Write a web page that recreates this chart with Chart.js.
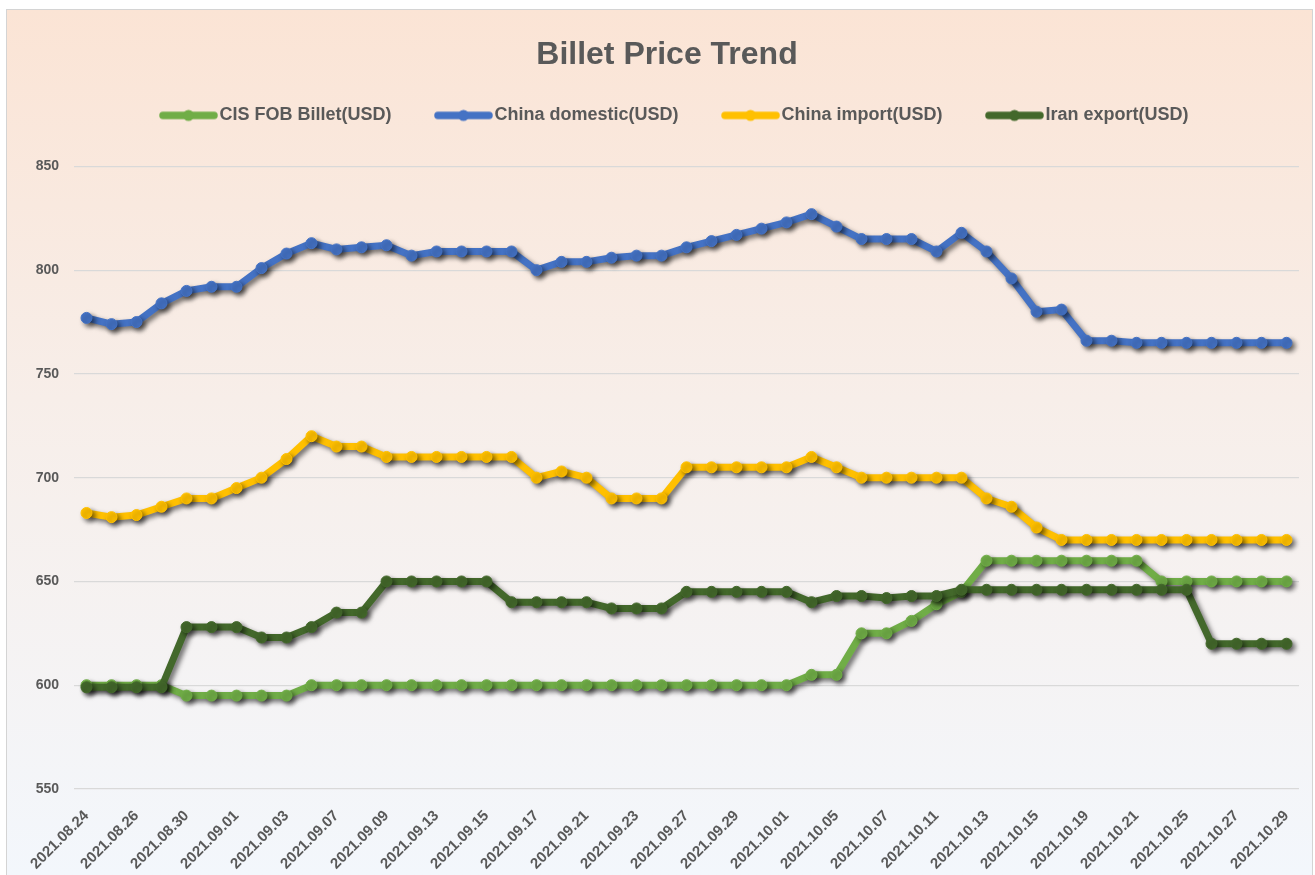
<!DOCTYPE html>
<html>
<head>
<meta charset="utf-8">
<script src="https://cdn.jsdelivr.net/npm/chart.js@4.4.1/dist/chart.umd.min.js"></script>
<style>
  html, body { margin: 0; padding: 0; background: #fff; }
  #frame {
    position: absolute; left: 6px; top: 9px; width: 1307px; height: 866px;
    box-sizing: border-box; border: 1px solid #d4d4d4; border-bottom: none;
    background: linear-gradient(#fbe4d5 0%, #f7eee9 45%, #f3f7fc 100%);
  }
  #wrap { position: absolute; left: 0; top: 0; width: 1305px; height: 865px; }
</style>
</head>
<body>
<div id="frame"><div id="wrap"><canvas id="grafico"></canvas></div></div>
<script>
const dates = ['2021.08.24','2021.08.25','2021.08.26','2021.08.27','2021.08.30','2021.08.31',
  '2021.09.01','2021.09.02','2021.09.03','2021.09.06','2021.09.07','2021.09.08','2021.09.09','2021.09.10',
  '2021.09.13','2021.09.14','2021.09.15','2021.09.16','2021.09.17','2021.09.20','2021.09.21','2021.09.22',
  '2021.09.23','2021.09.24','2021.09.27','2021.09.28','2021.09.29','2021.09.30',
  '2021.10.01','2021.10.04','2021.10.05','2021.10.06','2021.10.07','2021.10.08','2021.10.11','2021.10.12',
  '2021.10.13','2021.10.14','2021.10.15','2021.10.18','2021.10.19','2021.10.20','2021.10.21','2021.10.22',
  '2021.10.25','2021.10.26','2021.10.27','2021.10.28','2021.10.29'];

const cisFob = [600,600,600,600,595,595,595,595,595,600,600,600,600,600,600,600,600,600,600,600,
  600,600,600,600,600,600,600,600,600,605,605,625,625,631,639,645,660,660,660,660,
  660,660,660,650,650,650,650,650,650];

const chinaDomestic = [777,774,775,784,790,792,792,801,808,813,810,811,812,807,809,809,809,809,800,804,
  804,806,807,807,811,814,817,820,823,827,821,815,815,815,809,818,809,796,780,781,
  766,766,765,765,765,765,765,765,765];

const chinaImport = [683,681,682,686,690,690,695,700,709,720,715,715,710,710,710,710,710,710,700,703,
  700,690,690,690,705,705,705,705,705,710,705,700,700,700,700,700,690,686,676,670,
  670,670,670,670,670,670,670,670,670];

const iranExport = [599,599,599,599,628,628,628,623,623,628,635,635,650,650,650,650,650,640,640,640,
  640,637,637,637,645,645,645,645,645,640,643,643,642,643,643,646,646,646,646,646,
  646,646,646,646,646,620,620,620,620];

const yTicks = [550, 600, 650, 700, 750, 800, 850];

const corTexto = '#595959';
const fonte = "'Liberation Sans', Arial, sans-serif";

// marcador da legenda: linha grossa com bolinha no meio
// (imagem de 96px centrada na caixa de 65px, o marcador fica colado no texto)
function marcador(cor) {
  const c = document.createElement('canvas');
  c.width = 96; c.height = 16;
  const g = c.getContext('2d');
  g.strokeStyle = cor; g.lineWidth = 7.5; g.lineCap = 'round';
  g.beginPath(); g.moveTo(33, 8); g.lineTo(84, 8); g.stroke();
  g.fillStyle = cor;
  g.beginPath(); g.arc(58.5, 8, 5.5, 0, Math.PI * 2); g.fill();
  return c;
}

const sombra = {
  id: 'sombra',
  beforeDatasetDraw(chart) {
    const c = chart.ctx;
    c.save();
    c.shadowColor = 'rgba(0,0,0,0.55)';
    c.shadowBlur = 5;
    c.shadowOffsetX = 3;
    c.shadowOffsetY = 3;
  },
  afterDatasetDraw(chart) { chart.ctx.restore(); }
};

const espacoLegenda = {
  id: 'espacoLegenda',
  beforeInit(chart) {
    const fit = chart.legend.fit;
    chart.legend.fit = function () {
      fit.call(this);
      this.height += 32;
    };
  }
};

function serie(label, data, cor, ordem) {
  return {
    label, data,
    borderColor: cor, backgroundColor: cor,
    pointBackgroundColor: cor, pointBorderColor: cor,
    borderWidth: 7, pointRadius: 5.5, pointBorderWidth: 1,
    tension: 0, order: ordem
  };
}

new Chart(document.getElementById('grafico'), {
  type: 'line',
  data: {
    labels: dates,
    datasets: [
      serie('CIS FOB Billet(USD)', cisFob, '#70ad47', 3),
      serie('China domestic(USD)', chinaDomestic, '#4472c4', 2),
      serie('China import(USD)', chinaImport, '#ffc000', 1),
      serie('Iran export(USD)', iranExport, '#43682b', 0)
    ]
  },
  options: {
    responsive: true,
    maintainAspectRatio: false,
    animation: false,
    layout: { padding: { left: 28, right: 13, top: 0, bottom: 0 } },
    plugins: {
      title: {
        display: true,
        text: 'Billet Price Trend',
        color: corTexto,
        font: { family: fonte, size: 32, weight: 'bold' },
        padding: { top: 26, bottom: 3 }
      },
      legend: {
        position: 'top',
        labels: {
          usePointStyle: true,
          pointStyleWidth: 65,
          padding: 29,
          color: corTexto,
          font: { family: fonte, size: 18, weight: 'bold' },
          generateLabels(chart) {
            return chart.data.datasets.map((ds, i) => ({
              text: ds.label,
              pointStyle: marcador(ds.borderColor),
              fillStyle: ds.borderColor,
              strokeStyle: ds.borderColor,
              lineWidth: 0,
              fontColor: corTexto,
              hidden: false,
              datasetIndex: i
            }));
          }
        }
      },
      tooltip: { enabled: false }
    },
    scales: {
      x: {
        offset: true,
        grid: { display: false },
        border: { display: false },
        afterFit(scale) { scale.height = 86; },
        ticks: {
          autoSkip: false,
          maxRotation: 45,
          minRotation: 45,
          padding: 10,
          color: corTexto,
          font: { family: fonte, size: 15, weight: 'bold' },
          callback(val, i) { return i % 2 === 0 ? dates[i] : ''; }
        }
      },
      y: {
        min: yTicks[0],
        max: yTicks[yTicks.length - 1],
        afterFit(scale) { scale.width = 39; },
        afterBuildTicks(scale) { scale.ticks = yTicks.map(v => ({ value: v })); },
        grid: { color: '#d9d9d9', lineWidth: 1.3, drawTicks: false },
        border: { display: false },
        ticks: {
          padding: 15,
          color: corTexto,
          font: { family: fonte, size: 14, weight: 'bold' }
        }
      }
    }
  },
  plugins: [sombra, espacoLegenda]
});
</script>
</body>
</html>
